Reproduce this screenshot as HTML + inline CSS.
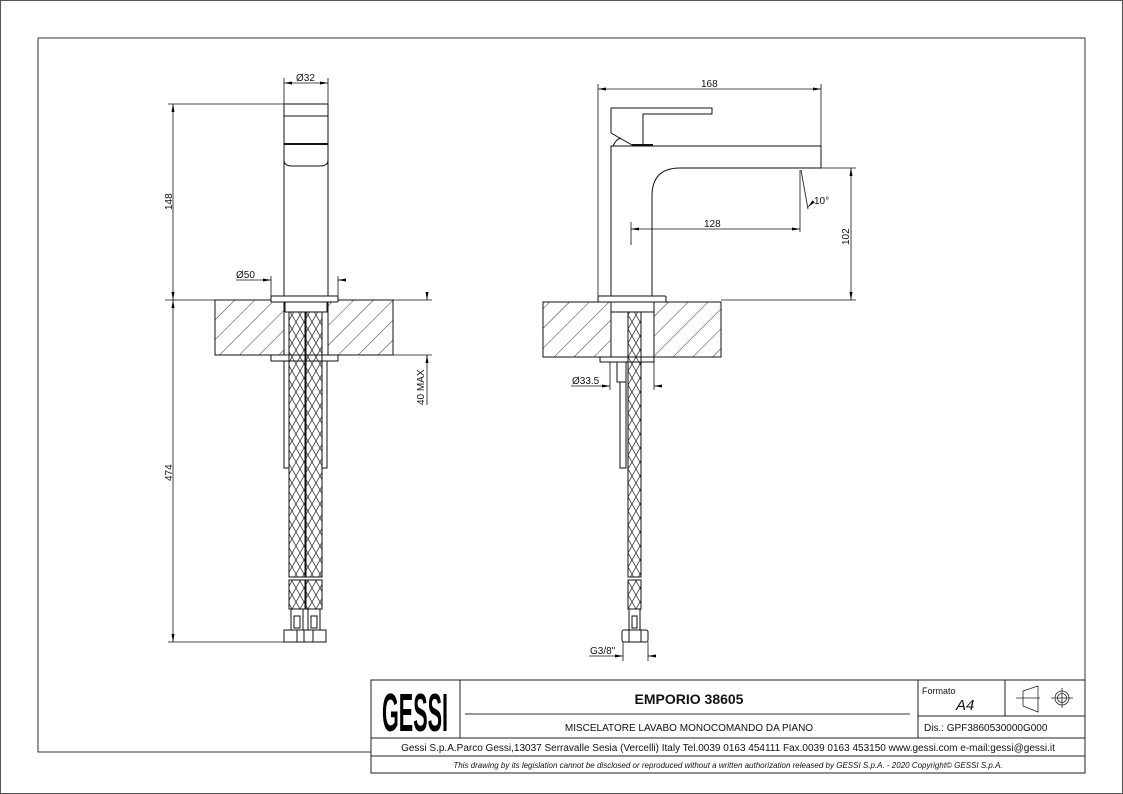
<!DOCTYPE html>
<html><head><meta charset="utf-8"><style>
html,body{margin:0;padding:0;background:#fff;}
svg{display:block;font-family:"Liberation Sans",Arial,sans-serif;}
</style></head><body>
<svg width="1123" height="794" viewBox="0 0 1123 794" xmlns="http://www.w3.org/2000/svg">
<defs>
<pattern id="hatch" width="14" height="14" patternUnits="userSpaceOnUse" patternTransform="rotate(45)">
<line x1="0" y1="0" x2="0" y2="14" stroke="#222" stroke-width="0.9"/>
</pattern>
<pattern id="braid" width="8" height="14" patternUnits="userSpaceOnUse">
<path d="M0,0 L8,14 M8,0 L0,14" stroke="#222" stroke-width="0.7" fill="none"/>
</pattern>
<marker id="ar" markerWidth="8" markerHeight="6" refX="8" refY="3" orient="auto-start-reverse" markerUnits="userSpaceOnUse">
<path d="M0,1.5 L8,3 L0,4.5z" fill="#000"/>
</marker>
</defs>
<rect x="0.5" y="0.5" width="1122" height="793" fill="#fff" stroke="#555"/>
<g fill="none" stroke="#333" stroke-width="1">
<path d="M38,38 H1085 V752 M38,38 V752 H371"/>
</g>

<!-- LEFT VIEW -->
<g fill="none" stroke="#111" stroke-width="1">
<rect x="215" y="300" width="69" height="55" fill="url(#hatch)"/>
<rect x="328" y="300" width="65" height="55" fill="url(#hatch)"/>
<rect x="284" y="104" width="44" height="192" fill="#fff"/>
<line x1="284" y1="116" x2="328" y2="116"/>
<line x1="284" y1="144" x2="328" y2="144" stroke-width="2"/>
<path d="M284,160 Q284,166 292,166 H320 Q328,166 328,160"/>
<rect x="271" y="296" width="67" height="6" rx="1" fill="#fff"/>
<rect x="285" y="302" width="42" height="10" fill="#fff"/>
<rect x="271" y="355" width="67" height="6" fill="#fff"/>
<rect x="284" y="361" width="5" height="107" fill="#fff"/>
<rect x="322" y="361" width="5" height="107" fill="#fff"/>
<rect x="289" y="312" width="16" height="265" fill="url(#braid)"/>
<rect x="306" y="312" width="16" height="265" fill="url(#braid)"/>
<rect x="289" y="580" width="16" height="29" fill="url(#braid)"/>
<rect x="306" y="580" width="16" height="29" fill="url(#braid)"/>
<rect x="291" y="609" width="12" height="21"/>
<rect x="308" y="609" width="12" height="21"/>
<rect x="294" y="616" width="6" height="12"/>
<rect x="311" y="616" width="6" height="12"/>
<rect x="284" y="630" width="42" height="12" fill="#fff"/>
<line x1="297" y1="630" x2="297" y2="642"/><line x1="304" y1="630" x2="304" y2="642"/><line x1="313" y1="630" x2="313" y2="642"/>
</g>
<g fill="none" stroke="#111" stroke-width="0.8">
<line x1="168" y1="104" x2="284" y2="104"/>
<line x1="165" y1="300" x2="215" y2="300"/>
<line x1="168" y1="642" x2="284" y2="642"/>
<line x1="173" y1="104" x2="173" y2="300" marker-start="url(#ar)" marker-end="url(#ar)"/>
<line x1="173" y1="300" x2="173" y2="642" marker-start="url(#ar)" marker-end="url(#ar)"/>
<line x1="284" y1="78" x2="284" y2="104"/><line x1="328" y1="78" x2="328" y2="104"/>
<line x1="284" y1="83" x2="328" y2="83" marker-start="url(#ar)" marker-end="url(#ar)"/>
<line x1="271" y1="276" x2="271" y2="296"/><line x1="338" y1="276" x2="338" y2="296"/>
<line x1="236" y1="280" x2="271" y2="280" marker-end="url(#ar)"/>
<line x1="338" y1="280" x2="346" y2="280" marker-start="url(#ar)"/>
<line x1="393" y1="300" x2="432" y2="300"/><line x1="393" y1="355" x2="432" y2="355"/>
<line x1="427" y1="292" x2="427" y2="300" marker-end="url(#ar)"/>
<line x1="427" y1="363" x2="427" y2="355" marker-end="url(#ar)"/>
<line x1="427" y1="355" x2="427" y2="405"/>
</g>
<g font-size="10" fill="#111">
<text x="296" y="81">Ø32</text>
<text x="236" y="278">Ø50</text>
<text transform="translate(172,210) rotate(-90)">148</text>
<text transform="translate(172,481) rotate(-90)">474</text>
<text transform="translate(424,405) rotate(-90)">40 MAX</text>
</g>

<!-- RIGHT VIEW -->
<g fill="none" stroke="#111" stroke-width="1">
<path d="M543,302 H611 V357 H543Z M654,302 H721 V357 H654Z" fill="url(#hatch)"/>
<path d="M611,296 V146 H821 V168 H680 Q652,168 652,196 V296" fill="#fff"/>
<path d="M611,108 H712 V114 H643 V145 H632 L611,133Z" fill="#fff"/>
<line x1="632" y1="145" x2="653" y2="145" stroke-width="2"/>
<path d="M613,146 Q616,139 621,138"/>
<rect x="598" y="296" width="68" height="6" rx="1" fill="#fff"/>
<rect x="611" y="302" width="43" height="10" fill="#fff"/>
<rect x="600" y="357" width="54" height="5" fill="#fff"/>
<rect x="617" y="362" width="9" height="20" fill="#fff"/>
<rect x="620" y="382" width="6" height="86" fill="#fff"/>
<rect x="628" y="312" width="13" height="265" fill="url(#braid)"/>
<rect x="628" y="580" width="13" height="29" fill="url(#braid)"/>
<rect x="629" y="609" width="11" height="21"/>
<rect x="632" y="616" width="5" height="12"/>
<rect x="622" y="630" width="26" height="12" rx="2" fill="#fff"/>
<line x1="629" y1="630" x2="629" y2="642"/><line x1="641" y1="630" x2="641" y2="642"/>
</g>
<g fill="none" stroke="#111" stroke-width="0.8">
<line x1="598" y1="84" x2="598" y2="296"/><line x1="821" y1="84" x2="821" y2="146"/>
<line x1="598" y1="89" x2="821" y2="89" marker-start="url(#ar)" marker-end="url(#ar)"/>
<line x1="795" y1="168" x2="856" y2="168"/>
<line x1="721" y1="300" x2="856" y2="300"/>
<line x1="851" y1="168" x2="851" y2="300" marker-start="url(#ar)" marker-end="url(#ar)"/>
<line x1="631" y1="222" x2="631" y2="245"/>
<line x1="800" y1="170" x2="800" y2="232"/>
<line x1="631" y1="229" x2="800" y2="229" marker-start="url(#ar)" marker-end="url(#ar)"/>
<line x1="801" y1="170" x2="808" y2="209"/>
<line x1="812" y1="203" x2="808" y2="207" marker-end="url(#ar)"/>
<line x1="610" y1="362" x2="610" y2="390"/><line x1="654" y1="362" x2="654" y2="390"/>
<line x1="571" y1="386" x2="610" y2="386" marker-end="url(#ar)"/>
<line x1="654" y1="386" x2="662" y2="386" marker-start="url(#ar)"/>
<line x1="623" y1="642" x2="623" y2="661"/><line x1="648" y1="642" x2="648" y2="661"/>
<line x1="589" y1="656" x2="623" y2="656" marker-end="url(#ar)"/>
<line x1="648" y1="656" x2="655" y2="656" marker-start="url(#ar)"/>
</g>
<g font-size="10" fill="#111">
<text x="701" y="87">168</text>
<text x="704" y="227">128</text>
<text x="814" y="204">10°</text>
<text transform="translate(849,245) rotate(-90)">102</text>
<text x="572" y="384">Ø33.5</text>
<text x="590" y="654">G3/8"</text>
</g>

<!-- TITLE BLOCK -->
<g fill="none" stroke="#222" stroke-width="1">
<rect x="371" y="680" width="714" height="93"/>
<line x1="371" y1="738" x2="1085" y2="738"/>
<line x1="371" y1="756" x2="1085" y2="756"/>
<line x1="460" y1="680" x2="460" y2="738"/>
<line x1="918" y1="680" x2="918" y2="738"/>
<line x1="1005" y1="680" x2="1005" y2="716"/>
<line x1="918" y1="716" x2="1085" y2="716"/>
<line x1="465" y1="714" x2="910" y2="714" stroke="#333"/>
<path d="M1016,698 H1023 M1023,691 V706 L1038,712 V686 L1023,691 M1020,698 H1040" stroke-width="0.8"/>
<circle cx="1062" cy="698" r="7" stroke-width="0.8"/>
<circle cx="1062" cy="698" r="4.5" stroke-width="0.8"/>
<path d="M1051,698 H1073 M1062,688 V708" stroke-width="0.8"/>
</g>
<text x="382" y="731" font-size="54" font-weight="bold" fill="#000" textLength="66" lengthAdjust="spacingAndGlyphs">GESSI</text>
<g fill="#111">
<text x="689" y="704" font-size="14" font-weight="bold" text-anchor="middle">EMPORIO 38605</text>
<text x="689" y="731" font-size="10" text-anchor="middle">MISCELATORE LAVABO MONOCOMANDO DA PIANO</text>
<text x="922" y="694" font-size="9">Formato</text>
<text x="956" y="710" font-size="15" font-style="italic">A4</text>
<text x="924" y="731" font-size="10">Dis.: GPF3860530000G000</text>
<text x="728" y="751" font-size="10" text-anchor="middle">Gessi S.p.A.Parco Gessi,13037 Serravalle Sesia (Vercelli) Italy Tel.0039 0163 454111 Fax.0039 0163 453150 www.gessi.com e-mail:gessi@gessi.it</text>
<text x="728" y="768" font-size="8" font-style="italic" text-anchor="middle">This drawing by its legislation cannot be disclosed or reproduced without a written authorization released by GESSI S.p.A. - 2020 Copyright© GESSI S.p.A.</text>
</g>
</svg>
</body></html>
